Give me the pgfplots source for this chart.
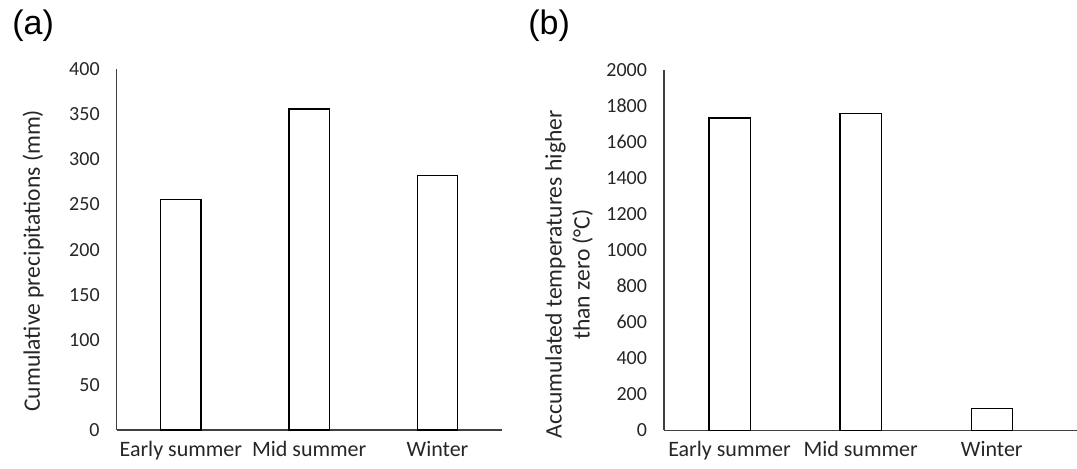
\documentclass[border=0pt]{standalone}
\usepackage{fontspec}
\setmainfont{Carlito}
\newfontfamily\arialf{Liberation Sans}
\usepackage{pgfplots}
\pgfplotsset{compat=1.18}
\begin{document}
\begin{tikzpicture}
\path[use as bounding box] (0pt,0pt) rectangle (538.5pt,234.5pt);
\pgfplotsset{
  mystyle/.style={
    scale only axis,
    axis x line=bottom, axis y line=left,
    axis line style={draw=black!75, line width=0.6pt, -},
    major tick length=0pt,
    ymin=0,
    xtick=data,
    xticklabels={Early summer, Mid summer, Winter},
    ybar, bar shift=0pt,
    tick label style={font=\fontsize{10}{12}\selectfont, text=black!85},
    yticklabel style={xshift=-5pt},
    xticklabel style={yshift=-2pt, font=\fontsize{11}{12}\selectfont},
    /pgf/number format/assume math mode=true,
    /pgf/number format/1000 sep={},
    label style={font=\fontsize{11.8}{14}\selectfont, text=black!85},
    clip=false,
  }
}
\begin{axis}[mystyle, name=a, at={(58.35pt,19.5pt)}, anchor=south west,
  width=192.5pt, height=180.35pt,
  xmin=-0.5, xmax=2.5, ymax=400, ytick={0,50,...,400},
  bar width=20.2pt,
  ylabel={Cumulative precipitations (mm)},
  ylabel style={at={(axis description cs:-0.217,0.469)}, anchor=center},
]
\addplot[draw=black, line width=0.6pt, fill=white] coordinates {(0,256) (1,356) (2,282)};
\end{axis}
\begin{axis}[mystyle, name=b, at={(332pt,19.35pt)}, anchor=south west,
  width=206.5pt, height=180.35pt,
  xmin=-0.5, xmax=2.65, ymax=2000, ytick={0,200,...,2000},
  bar width=20.6pt,
  ylabel={Accumulated temperatures higher\\than zero (°C)},
  ylabel style={at={(axis description cs:-0.23,0.432)}, anchor=center, align=center},
]
\addplot[draw=black, line width=0.6pt, fill=white] coordinates {(0,1732) (1,1758) (2,119)};
\end{axis}
\node[anchor=north west, inner sep=0pt, font=\arialf\fontsize{17}{19}\selectfont] at (6pt,230pt) {(a)};
\node[anchor=north west, inner sep=0pt, font=\arialf\fontsize{17}{19}\selectfont] at (264pt,230pt) {(b)};
\end{tikzpicture}
\end{document}
